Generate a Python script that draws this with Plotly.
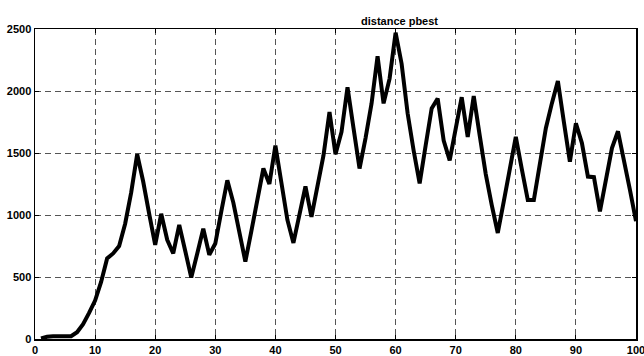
import plotly.graph_objects as go

iterations = list(range(1, 101))
distance = [
    5, 18, 22, 22, 18, 22, 55, 120, 210, 310,
    460, 650, 690, 750, 930, 1180, 1490, 1270, 1010, 760,
    1010, 800, 690, 920, 710, 495, 690, 890, 680, 770,
    1030, 1280, 1100, 860, 625, 870, 1120, 1375, 1250, 1560,
    1260, 960, 775, 1000, 1230, 985, 1220, 1480, 1830, 1490,
    1670, 2030, 1700, 1375, 1620, 1900, 2280, 1900, 2100, 2470,
    2220, 1820, 1520, 1255, 1560, 1860, 1940, 1600, 1440, 1700,
    1950, 1630, 1960, 1640, 1330, 1080, 855, 1110, 1370, 1630,
    1370, 1120, 1120, 1400, 1700, 1900, 2080, 1750, 1430, 1740,
    1580, 1310, 1305, 1030, 1280, 1540, 1675, 1450, 1200, 950,
]
x_ticks = [0, 10, 20, 30, 40, 50, 60, 70, 80, 90, 100]
y_ticks = [0, 500, 1000, 1500, 2000, 2500]
title_text = "distance pbest"

font_family = "Liberation Sans Narrow, Liberation Sans, Arial, sans-serif"

fig = go.Figure()
fig.add_trace(go.Scatter(
    x=iterations, y=distance, mode="lines",
    line=dict(color="black", width=4),
    showlegend=False, hoverinfo="skip", cliponaxis=False,
))

axis_common = dict(
    showline=True, linecolor="black", linewidth=1.5, mirror="allticks",
    ticks="inside", ticklen=4, tickcolor="black", tickwidth=1,
    showgrid=True, gridcolor="#555555", gridwidth=1, griddash="6px,4px",
    zeroline=False, automargin=False, ticklabeloverflow="allow",
    tickfont=dict(family=font_family, size=11, color="black", weight="bold"),
)

fig.update_xaxes(range=[0, 100], tickvals=x_ticks, ticktext=[str(v) for v in x_ticks],
                 ticklabelstandoff=0, **axis_common)
fig.update_yaxes(range=[0, 2500], tickvals=y_ticks, ticktext=[str(v) for v in y_ticks],
                 ticklabelstandoff=0, **axis_common)

fig.add_annotation(
    text="<b>" + title_text + "</b>", xref="paper", yref="paper",
    x=0.606, y=1, xanchor="center", yanchor="bottom", yshift=0,
    showarrow=False, font=dict(family=font_family, size=11, color="black"),
)

fig.update_layout(
    width=644, height=356,
    margin=dict(l=35, r=8, t=29, b=17, autoexpand=False),
    paper_bgcolor="white", plot_bgcolor="white",
)

fig.write_html("out.html", config={"displayModeBar": False, "staticPlot": True},
               post_script="document.body.style.margin='0';document.body.style.overflow='hidden';")
